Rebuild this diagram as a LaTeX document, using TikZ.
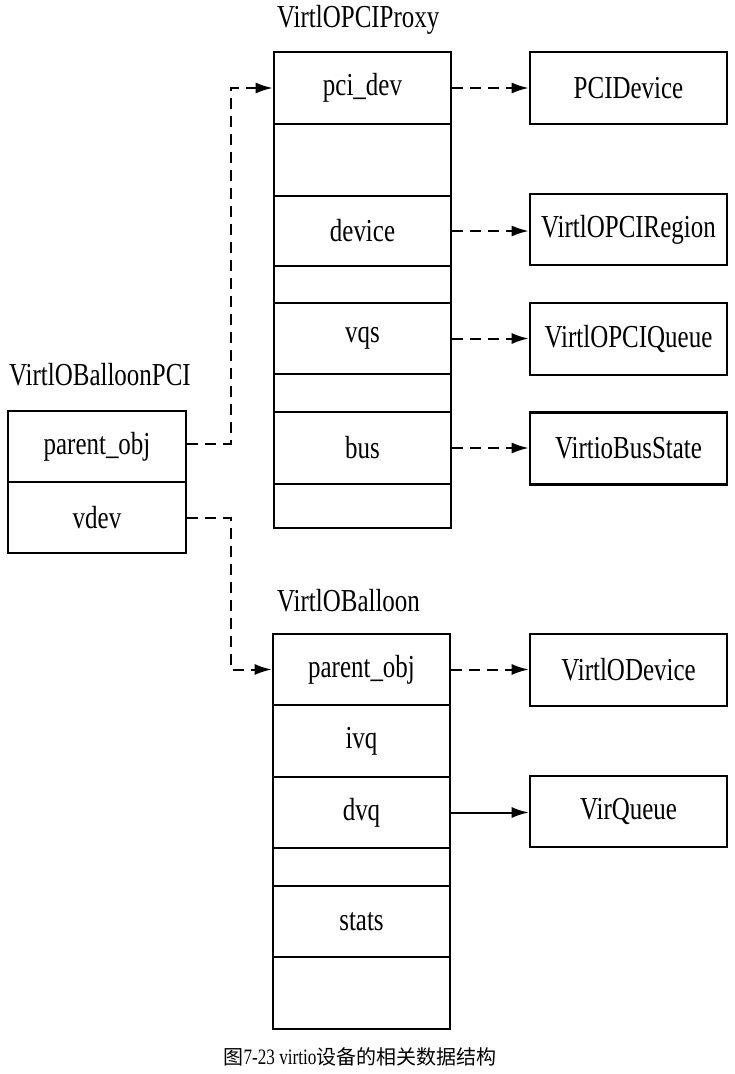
\documentclass[tikz,border=0pt]{standalone}
\usepackage{fontspec}
\setmainfont[FakeStretch=0.78]{Liberation Serif}
\newfontfamily\cjkfont{Noto Sans CJK SC}
\usetikzlibrary{arrows.meta}
\begin{document}
\begin{tikzpicture}[x=1pt,y=-1pt,
  every node/.style={font=\fontsize{32}{34}\selectfont},
  field/.style={draw, line width=2.6pt, inner sep=0pt, minimum width=177pt},
  target/.style={draw, line width=2.6pt, inner sep=0pt, minimum width=197pt, minimum height=72pt},
  title/.style={anchor=west, inner sep=0pt},
  ptr/.style={line width=2pt, dash pattern=on 11pt off 7pt, -{Latex[length=17pt,width=11pt]}},
  sptr/.style={line width=2pt, -{Latex[length=17pt,width=11pt]}}]
\useasboundingbox (0,0) rectangle (735,1074);

% VirtIOPCIProxy
\node[title] (tproxy) at (277,20) {VirtlOPCIProxy};
\node[field, minimum height=72pt] (pcidev) at (362.5,88) {pci\_dev};
\node[field, minimum height=72pt] (pblank1) at (362.5,160) {};
\node[field, minimum height=70pt] (pdevice) at (362.5,231) {device};
\node[field, minimum height=37pt] (pblank2) at (362.5,284.5) {};
\node[field, minimum height=71pt] (pvqs) at (362.5,338.5) {vqs};
\node[field, minimum height=38pt] (pblank3) at (362.5,393) {};
\node[field, minimum height=72pt] (pbus) at (362.5,448) {bus};
\node[field, minimum height=44pt] (pblank4) at (362.5,506) {};

% VirtIOBalloonPCI
\node[title] (tbpci) at (9,375) {VirtlOBalloonPCI};
\node[field, minimum width=178pt, minimum height=71pt] (bpparent) at (97,446.5) {parent\_obj};
\node[field, minimum width=178pt, minimum height=71pt] (bpvdev) at (97,517.5) {vdev};

% VirtIOBalloon
\node[title] (tball) at (277,601) {VirtlOBalloon};
\node[field, minimum height=71pt] (bparent) at (361.5,669.5) {parent\_obj};
\node[field, minimum height=72pt] (bivq) at (361.5,741) {ivq};
\node[field, minimum height=71pt] (bdvq) at (361.5,812.5) {dvq};
\node[field, minimum height=38pt] (bblank1) at (361.5,867) {};
\node[field, minimum height=71pt] (bstats) at (361.5,921.5) {stats};
\node[field, minimum height=72pt] (bblank2) at (361.5,993) {};

% referenced structures
\node[target] (tpci) at (628.5,88) {PCIDevice};
\node[target, minimum height=71pt] (tregion) at (628.5,229.5) {VirtlOPCIRegion};
\node[target] (tqueue) at (628.5,339) {VirtlOPCIQueue};
\node[target] (tbus) at (628.5,448.5) {VirtioBusState};
\node[target] (tvdev) at (628.5,670) {VirtlODevice};
\node[target, minimum height=71pt] (tvq) at (628.5,811.5) {VirQueue};

% pointers
\draw[ptr] (pcidev.east) -- (tpci.west);
\draw[ptr] (pdevice.east) -- (pdevice.east -| tregion.west);
\draw[ptr] (pvqs.east) -- (pvqs.east -| tqueue.west);
\draw[ptr] (pbus.east) -- (pbus.east -| tbus.west);
\draw[ptr] (bparent.east) -- (bparent.east -| tvdev.west);
\draw[sptr] (bdvq.east) -- (bdvq.east -| tvq.west);

\coordinate (elbow) at (231,0);
\draw[ptr] ([yshift=3pt]bpparent.east) -- ([yshift=3pt]bpparent.east -| elbow) |- (pcidev.west);
\draw[ptr] (bpvdev.east) -- (bpvdev.east -| elbow) |- (bparent.west);

% caption
\node[font=\fontsize{22}{24}\selectfont, inner sep=0pt] (caption) at (360,1057)
  {{\cjkfont\fontsize{20}{24}\selectfont 图}7-23 virtio{\cjkfont\fontsize{20}{24}\selectfont 设备的相关数据结构}};
\end{tikzpicture}
\end{document}
